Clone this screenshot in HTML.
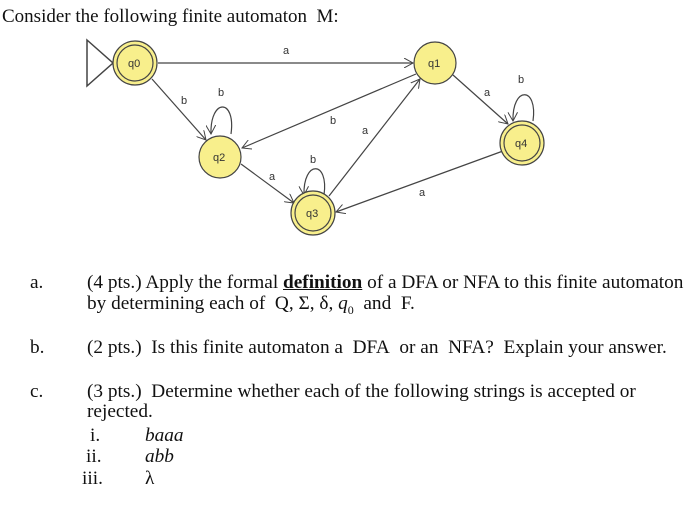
<!DOCTYPE html>
<html><head><style>
body{margin:0;width:700px;height:517px;background:#fff;position:relative;overflow:hidden;font-family:"Liberation Serif",serif;color:#111}
.t{position:absolute;font-size:19.3px;white-space:nowrap;line-height:20px}
svg{position:absolute;left:0;top:0}
svg text{font-family:"Liberation Sans",sans-serif;font-size:11px;fill:#333}
</style></head><body>
<div class="t" style="left:2px;top:7px;font-size:19px">Consider the following finite automaton&nbsp; M:</div>
<svg width="700" height="260" viewBox="0 0 700 260">
<defs><marker id="a" markerWidth="10" markerHeight="10" refX="9" refY="5" orient="auto" markerUnits="userSpaceOnUse"><path d="M0,0 L9,5 L0,10" fill="none" stroke="#444" stroke-width="1"/></marker></defs>
<g stroke="#444" stroke-width="1.2" fill="none">
<path d="M87,40 L113,63 L87,86 Z" stroke-width="1.5"/>
<line x1="158" y1="63" x2="413" y2="63" marker-end="url(#a)"/>
<line x1="152" y1="79" x2="206" y2="140" marker-end="url(#a)"/>
<line x1="416" y1="74" x2="242" y2="148" marker-end="url(#a)"/>
<line x1="329" y1="196" x2="420" y2="79" marker-end="url(#a)"/>
<line x1="241" y1="164" x2="294" y2="203" marker-end="url(#a)"/>
<line x1="453" y1="75" x2="508" y2="124" marker-end="url(#a)"/>
<line x1="503" y1="151" x2="336" y2="212" marker-end="url(#a)"/>
<path d="M231,134 C236,98 210,98 211,134" marker-end="url(#a)"/>
<path d="M324,195 C329,160 303,160 304,195" marker-end="url(#a)"/>
<path d="M533,121 C538,86 512,86 513,121" marker-end="url(#a)"/>
</g>
<g fill="#f8ef8c" stroke="#444" stroke-width="1.2">
<circle cx="135" cy="63" r="22"/><circle cx="135" cy="63" r="18"/>
<circle cx="435" cy="63" r="21"/>
<circle cx="220" cy="157" r="21"/>
<circle cx="313" cy="213" r="22"/><circle cx="313" cy="213" r="18"/>
<circle cx="522" cy="143" r="22"/><circle cx="522" cy="143" r="18"/>
</g>
<text x="128" y="67">q0</text><text x="428" y="67">q1</text><text x="213" y="161">q2</text><text x="306" y="217">q3</text><text x="515" y="147">q4</text>
<text x="283" y="54">a</text><text x="181" y="104">b</text><text x="218" y="96">b</text>
<text x="330" y="124">b</text><text x="362" y="134">a</text><text x="310" y="163">b</text>
<text x="269" y="180">a</text><text x="484" y="96">a</text><text x="518" y="83">b</text><text x="419" y="196">a</text>
</svg>
<div class="t" style="left:30px;top:273px">a.</div>
<div class="t" style="left:87px;top:273px">(4 pts.) Apply the formal <b><u>definition</u></b> of a DFA or NFA to this finite automaton</div>
<div class="t" style="left:87px;top:294px">by determining each of&nbsp; Q, Σ, δ, <i>q</i><sub style="font-size:12px">0</sub>&nbsp; and&nbsp; F.</div>
<div class="t" style="left:30px;top:338px">b.</div>
<div class="t" style="left:87px;top:338px">(2 pts.)&nbsp; Is this finite automaton a&nbsp; DFA&nbsp; or an&nbsp; NFA?&nbsp; Explain your answer.</div>
<div class="t" style="left:30px;top:382px">c.</div>
<div class="t" style="left:87px;top:382px">(3 pts.)&nbsp; Determine whether each of the following strings is accepted or</div>
<div class="t" style="left:87px;top:402px">rejected.</div>
<div class="t" style="left:90px;top:426px">i.</div><div class="t" style="left:145px;top:426px"><i>baaa</i></div>
<div class="t" style="left:86px;top:447px">ii.</div><div class="t" style="left:145px;top:447px"><i>abb</i></div>
<div class="t" style="left:82px;top:469px">iii.</div><div class="t" style="left:145px;top:469px">λ</div>
</body></html>
